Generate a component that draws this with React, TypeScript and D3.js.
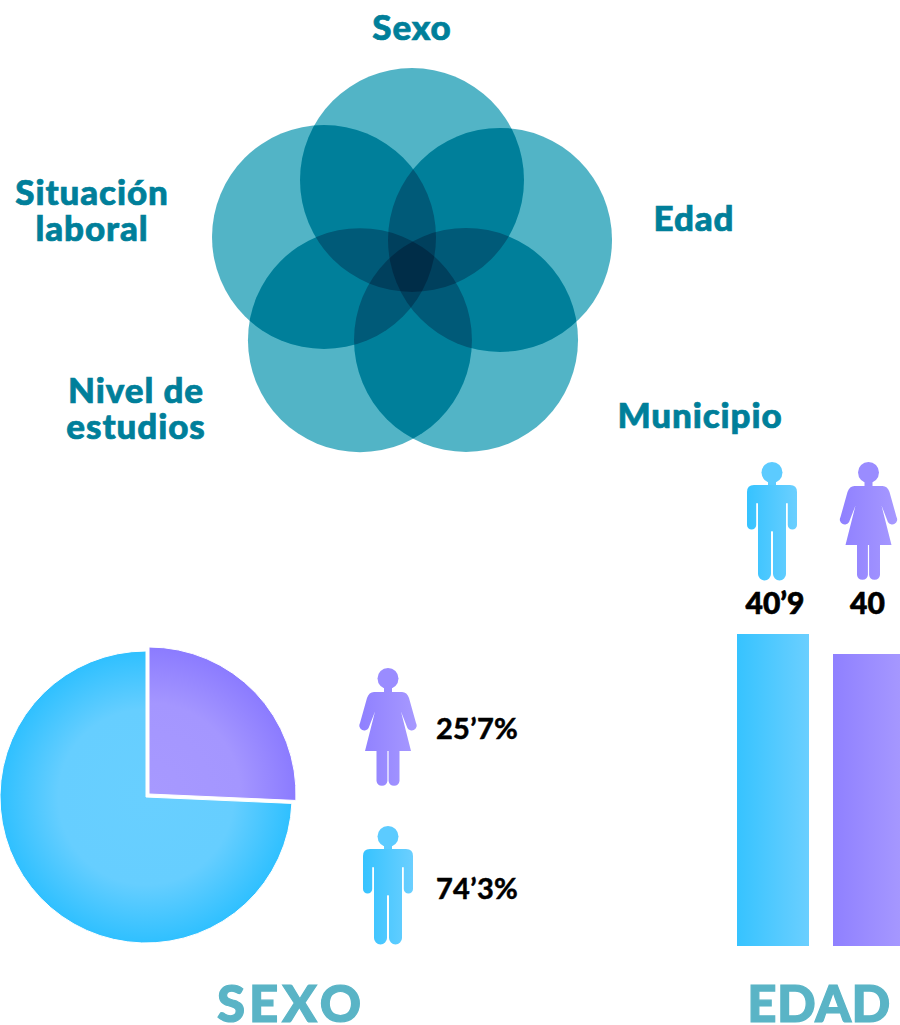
import React from "react";
import * as d3 from "d3";

const vennLabels = ["Sexo", "Edad", "Municipio", "Nivel de estudios", "Situación laboral"];
const vennAnglesDeg = [0, 72.3, 143.1, 215.8, 289.4];
const vennDistances = [88, 92.4, 90, 89, 93.3];
const sexLabels = ["Mujer", "Hombre"];
const sexValues = [25.7, 74.3];
const sexText = ["25’7%", "74’3%"];
const ageValues = [40.9, 40];
const ageText = ["40’9", "40"];

const FONT = "Lato, sans-serif";
const TEAL = "#007F9A";
const LIGHT = "#5AB4C6";

const MAN =
  "M-18,23 H18 Q25,23 25,30 V63 A4.6,4.6 0 0 1 15.8,63 V42 Q15.8,41 15,41 Q14,41 14,42 V112 A6.5,6.5 0 0 1 1,112 V70 Q0.6,69 0,69 Q-0.6,69 -1,70 V112 A6.5,6.5 0 0 1 -14,112 V42 Q-14,41 -15,41 Q-15.8,41 -15.8,42 V63 A4.6,4.6 0 0 1 -25,63 V30 Q-25,23 -18,23 Z";
const WOMAN =
  "M-14,24 H14 Q19,24 21,30 L28,55 A4.6,4.6 0 0 1 19.4,60 L13,43.5 L23,83 H11.5 V113 A5.5,5.5 0 0 1 0.6,113 V83 H-0.6 V113 A5.5,5.5 0 0 1 -11.5,113 V83 H-23 L-13,43.5 L-19.4,60 A4.6,4.6 0 0 1 -28,55 L-21,30 Q-19,24 -14,24 Z";

function Person({ x, y, woman }: { x: number; y: number; woman?: boolean }) {
  const fill = woman ? "url(#gradPurple)" : "url(#gradBlue)";
  const mid = woman ? "#9A8CFF" : "#5CCBFF";
  return (
    <g transform={`translate(${x},${y})`}>
      <circle cx={0} cy={10.5} r={10.5} fill={mid} />
      <rect x={-4} y={17} width={8} height={10} fill={mid} />
      <path d={woman ? WOMAN : MAN} fill={fill} />
    </g>
  );
}

function Label({ x, y, lines, size = 35, lh = 36 }: { x: number; y: number; lines: string[]; size?: number; lh?: number }) {
  return (
    <text x={x} y={y} textAnchor="middle" fontFamily={FONT} fontWeight={900} fontSize={size} fill={TEAL} stroke={TEAL} strokeWidth={0.7} letterSpacing={0.9}>
      {lines.map((l, i) => (
        <tspan key={l} x={x} y={y + i * lh}>{l}</tspan>
      ))}
    </text>
  );
}

export default function App() {
  const vennCx = 412;
  const vennCy = 268;
  const vennR = 112;
  const centres = vennAnglesDeg.map((a, i) => d3.pointRadial((a * Math.PI) / 180, vennDistances[i]));

  const slices = d3.pie<number>().sort(null)(sexValues);
  const arcW = d3.arc<d3.PieArcDatum<number>>().innerRadius(0).outerRadius(147);
  const arcM = d3.arc<d3.PieArcDatum<number>>().innerRadius(0).outerRadius(146);

  const yAge = d3.scaleLinear().domain([26.86, 40.9]).range([946, 634]);
  const xAge = d3.scaleBand<number>().domain([0, 1]).range([737, 905]).paddingInner(0.25);

  return (
    <svg width={900} height={1025} viewBox="0 0 900 1025" style={{ position: "absolute", left: 0, top: 0, display: "block", background: "#fff" }}>
      <defs>
        <linearGradient id="gradBlue" x1="0" x2="1" y1="0" y2="0">
          <stop offset="0" stopColor="#36C3FF" />
          <stop offset="1" stopColor="#6BCFFF" />
        </linearGradient>
        <linearGradient id="gradPurple" x1="0" x2="1" y1="0" y2="0">
          <stop offset="0" stopColor="#8F80FF" />
          <stop offset="1" stopColor="#A799FF" />
        </linearGradient>
        <radialGradient id="pieBlue" gradientUnits="userSpaceOnUse" cx={0} cy={0} r={146}>
          <stop offset="0" stopColor="#68CFFF" />
          <stop offset="0.6" stopColor="#66CEFF" />
          <stop offset="1" stopColor="#2FC0FF" />
        </radialGradient>
        <radialGradient id="piePurple" gradientUnits="userSpaceOnUse" cx={0} cy={0} r={147}>
          <stop offset="0" stopColor="#A799FF" />
          <stop offset="0.62" stopColor="#A496FF" />
          <stop offset="1" stopColor="#8B7BFF" />
        </radialGradient>
        <filter id="vennTone" filterUnits="userSpaceOnUse" x={190} y={50} width={440} height={420} colorInterpolationFilters="sRGB">
          <feComponentTransfer>
            <feFuncR type="table" tableValues="0 0 0.16 0.36 0.5 0.625 0.75 0.875 1" />
          </feComponentTransfer>
        </filter>
      </defs>

      <g style={{ isolation: "isolate" }} filter="url(#vennTone)">
        <rect x={190} y={50} width={440} height={420} fill="#fff" />
        {centres.map(([dx, dy], i) => (
          <circle
            key={vennLabels[i]}
            cx={vennCx + dx}
            cy={vennCy + dy}
            r={vennR}
            fill="#5AB4C6"
            style={{ mixBlendMode: "multiply" }}
          />
        ))}
      </g>

      <Label x={412} y={40} lines={["Sexo"]} />
      <Label x={694} y={231} lines={["Edad"]} />
      <Label x={700} y={428} lines={["Municipio"]} />
      <Label x={136} y={403} lines={["Nivel de", "estudios"]} />
      <Label x={92} y={205} lines={["Situación", "laboral"]} />

      <g transform="translate(146,797)">
        <path d={arcM(slices[1]) as string} fill="url(#pieBlue)" stroke="#fff" strokeWidth={1} />
      </g>
      <g transform="translate(149,794)">
        <path d={arcW(slices[0]) as string} fill="url(#piePurple)" stroke="#fff" strokeWidth={1} />
      </g>

      <Person x={388} y={668} woman />
      <Person x={388} y={826} />
      {sexValues.map((_, i) => (
        <text key={sexLabels[i]} x={436} y={i === 0 ? 739 : 899} fontFamily={FONT} fontWeight={700} fontSize={29} letterSpacing={0.3} fill="#000" stroke="#000" strokeWidth={0.5}>
          {sexText[i]}
        </text>
      ))}

      {ageValues.map((v, i) => (
        <rect
          key={i}
          x={xAge(i)}
          y={yAge(v)}
          width={xAge.bandwidth()}
          height={946 - yAge(v)}
          fill={i === 0 ? "url(#gradBlue)" : "url(#gradPurple)"}
        />
      ))}
      <Person x={772} y={462} />
      <Person x={868.5} y={462} woman />
      <text x={775} y={614} textAnchor="middle" fontFamily={FONT} fontWeight={900} fontSize={30} fill="#000" stroke="#000" strokeWidth={0.6}>{ageText[0]}</text>
      <text x={867.5} y={614} textAnchor="middle" fontFamily={FONT} fontWeight={900} fontSize={30} fill="#000" stroke="#000" strokeWidth={0.6}>{ageText[1]}</text>

      <text x={291} y={1022} textAnchor="middle" fontFamily={FONT} fontWeight={900} fontSize={51} letterSpacing={4} fill={LIGHT} stroke={LIGHT} strokeWidth={1.2}>SEXO</text>
      <text x={819} y={1022} textAnchor="middle" fontFamily={FONT} fontWeight={900} fontSize={51} letterSpacing={0.5} fill={LIGHT} stroke={LIGHT} strokeWidth={1.2}>EDAD</text>
    </svg>
  );
}
